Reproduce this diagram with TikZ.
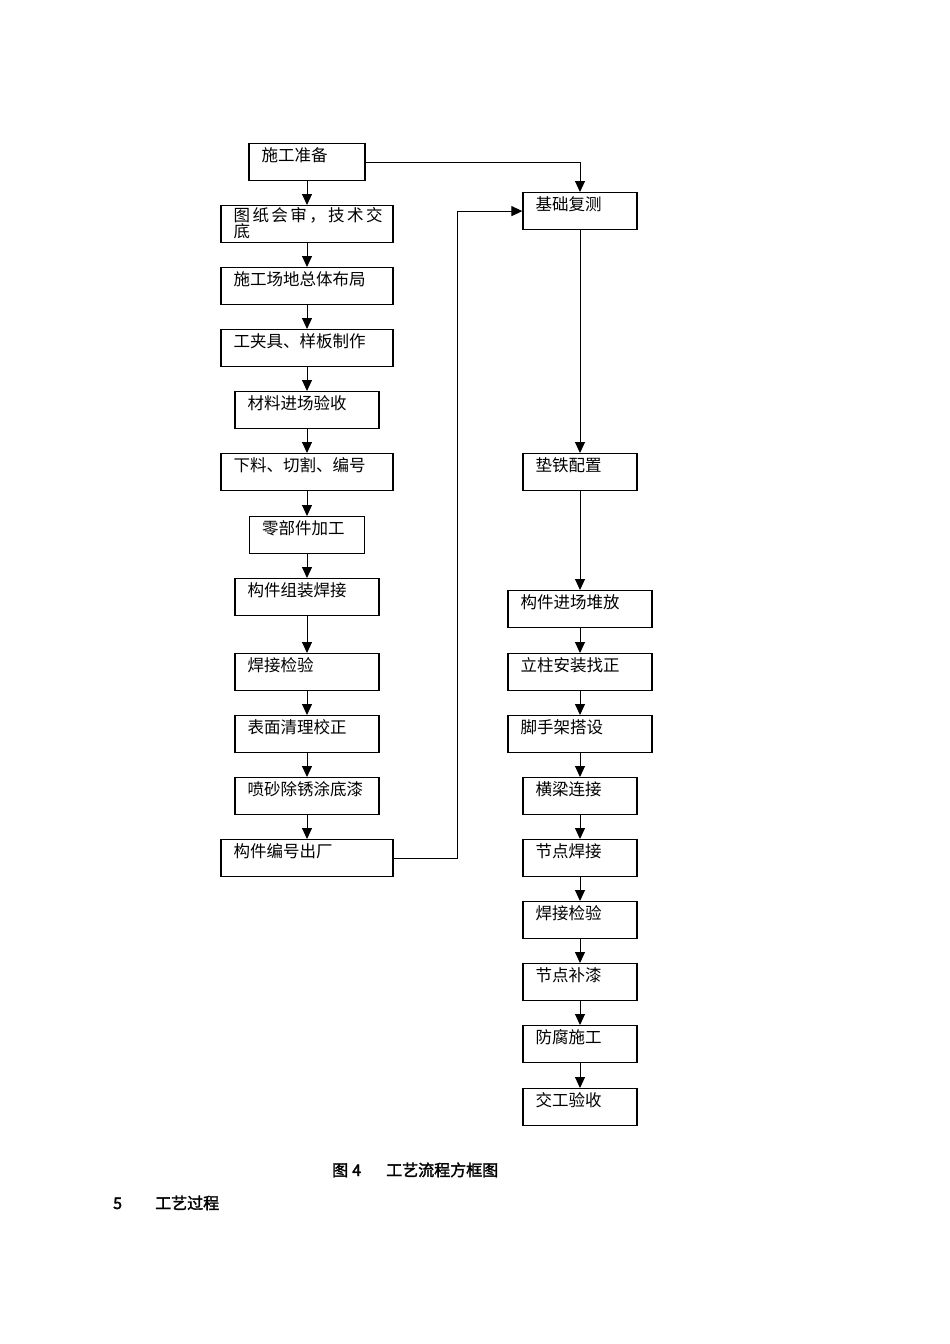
\documentclass[tikz,border=0pt]{standalone}
\usepackage{fontspec}
\newfontfamily\cjk[AutoFakeBold=2]{Noto Sans CJK SC}
\usetikzlibrary{arrows.meta}
\newcommand\mkbox[5]{% name, center x, top y, width, text
  \node[box, minimum width=#4pt] (#1) at (#2,#3) {};
  \node[lbl] (#1t) at ([shift={(13pt,-18pt)}]#1.north west) {#5};}
\begin{document}
\begin{tikzpicture}[x=1pt,y=-1pt,
  box/.style={draw, line width=1.2pt, inner sep=0pt, minimum height=37pt, anchor=north},
  lbl/.style={anchor=base west, inner sep=0pt, font=\cjk\fontsize{16.5}{16.5}\selectfont},
  captxt/.style={anchor=base west, inner sep=0pt, font=\cjk\bfseries\fontsize{16}{16}\selectfont},
  arr/.style={-{Triangle[width=10pt,length=11pt]}, line width=1pt}]
\useasboundingbox (0,0) rectangle (950,1344);
% left column
\mkbox{b1}{307}{143}{116}{施工准备}
\node[box, minimum width=172pt] (b2) at (307,205) {};
\node[lbl] (b2a) at ([shift={(13pt,-16pt)}]b2.north west) {\makebox[149pt][l]{图\hfill 纸\hfill 会\hfill 审\hfill ，\hfill 技\hfill 术\hfill 交}};
\node[lbl] (b2b) at ([shift={(13pt,-32.5pt)}]b2.north west) {底};
\mkbox{b3}{307}{267}{172}{施工场地总体布局}
\mkbox{b4}{307}{329}{172}{工夹具、样板制作}
\mkbox{b5}{307}{391}{144}{材料进场验收}
\mkbox{b6}{307}{453}{172}{下料、切割、编号}
\mkbox{b7}{307}{516}{115}{零部件加工}
\mkbox{b8}{307}{578}{144}{构件组装焊接}
\mkbox{b9}{307}{653}{144}{焊接检验}
\mkbox{b10}{307}{715}{144}{表面清理校正}
\mkbox{b11}{307}{777}{144}{喷砂除锈涂底漆}
\mkbox{b12}{307}{839}{172}{构件编号出厂}
% right column
\mkbox{r1}{580}{192}{114}{基础复测}
\mkbox{r2}{580}{453}{114}{垫铁配置}
\mkbox{r3}{580}{590}{144}{构件进场堆放}
\mkbox{r4}{580}{653}{144}{立柱安装找正}
\mkbox{r5}{580}{715}{144}{脚手架搭设}
\mkbox{r6}{580}{777}{114}{横梁连接}
\mkbox{r7}{580}{839}{114}{节点焊接}
\mkbox{r8}{580}{901}{114}{焊接检验}
\mkbox{r9}{580}{963}{114}{节点补漆}
\mkbox{r10}{580}{1025}{114}{防腐施工}
\mkbox{r11}{580}{1088}{114}{交工验收}
% arrows
\foreach \a/\b in {b1/b2,b2/b3,b3/b4,b4/b5,b5/b6,b6/b7,b7/b8,b8/b9,b9/b10,b10/b11,b11/b12,
  r1/r2,r2/r3,r3/r4,r4/r5,r5/r6,r6/r7,r7/r8,r8/r9,r9/r10,r10/r11}
  \draw[arr] (\a.south) -- (\b.north);
\draw[arr] (b1.east) -| (r1.north);
\draw[arr] (b12.east) -- ++(64pt,0pt) |- (r1.west);
% captions
\node[captxt] (c1) at (332,1176) {图\hspace{4pt}4};
\node[captxt] (c2) at (386,1176) {工艺流程方框图};
\node[captxt] (s1) at (113,1209) {5};
\node[captxt] (s2) at (155,1209) {工艺过程};
\end{tikzpicture}
\end{document}
